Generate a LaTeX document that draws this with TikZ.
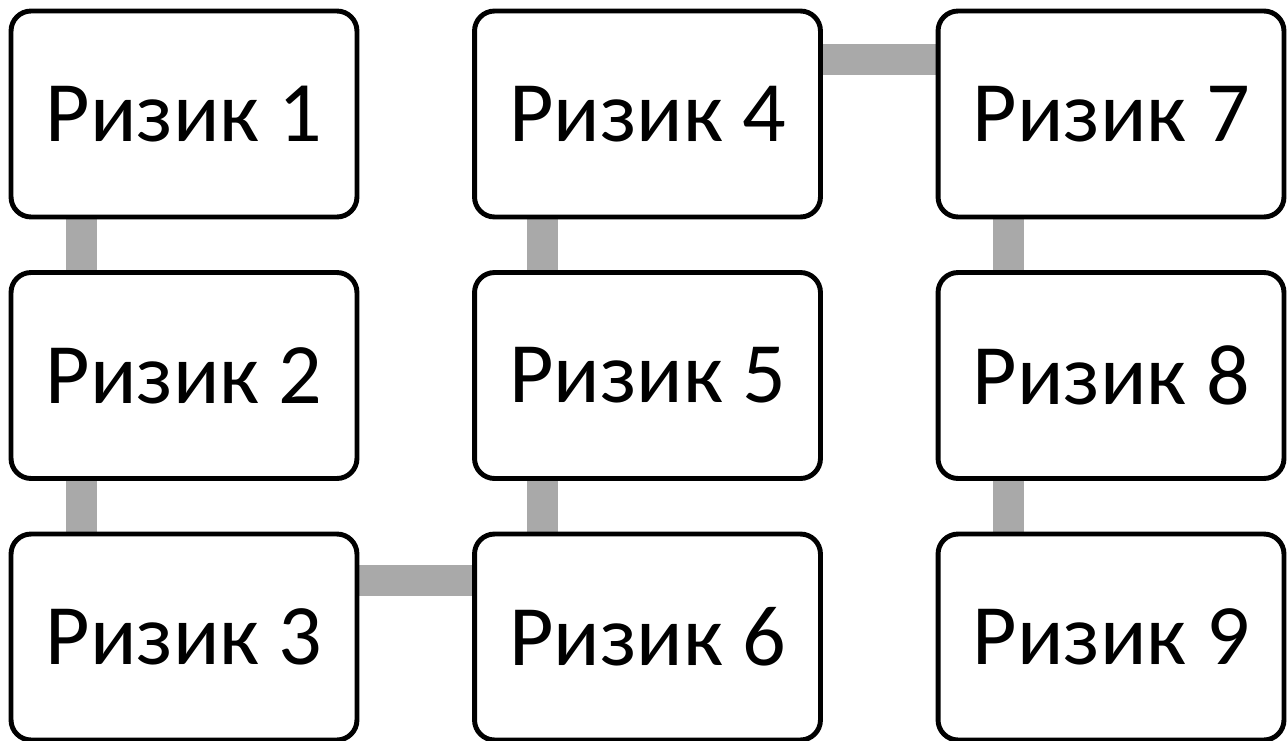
\documentclass[tikz,border=0pt]{standalone}
\usepackage{fontspec}
\setmainfont{Carlito}
\usetikzlibrary{backgrounds}

\definecolor{linkgray}{RGB}{169,169,169}
\tikzset{
  riskbox/.style={draw, line width=2.8pt, rounded corners=0.4cm, fill=white,
    minimum width=6.92cm, minimum height=4.12cm, inner sep=0pt,
    font=\fontsize{49}{59}\selectfont},
  link/.style={draw=linkgray, line width=0.62cm}
}

\begin{document}
\begin{tikzpicture}[x=0.02cm,y=-0.02cm]
\useasboundingbox (0,0) rectangle (1287,740);

\foreach \c in {0,1,2}
  \foreach \r in {0,1,2}
    {\pgfmathtruncatemacro\n{3*\c+\r+1}
     \node[riskbox] (r\n) at ({184+463.5*\c},{114+261.5*\r}) {Ризик \n};}

\begin{pgfonlayer}{background}
\draw[link] ([xshift=-2.06cm]r1.south) -- ([xshift=-2.06cm]r2.north);
\draw[link] ([xshift=-2.06cm]r2.south) -- ([xshift=-2.06cm]r3.north);
\draw[link] ([yshift=-0.98cm]r3.north east) -- ([yshift=-0.98cm]r6.north west);
\draw[link] ([xshift=-2.1cm]r4.south) -- ([xshift=-2.1cm]r5.north);
\draw[link] ([xshift=-2.1cm]r5.south) -- ([xshift=-2.1cm]r6.north);
\draw[link] ([yshift=-1.02cm]r4.north east) -- ([yshift=-1.02cm]r7.north west);
\draw[link] ([xshift=-2.06cm]r7.south) -- ([xshift=-2.06cm]r8.north);
\draw[link] ([xshift=-2.06cm]r8.south) -- ([xshift=-2.06cm]r9.north);
\end{pgfonlayer}
\end{tikzpicture}
\end{document}
